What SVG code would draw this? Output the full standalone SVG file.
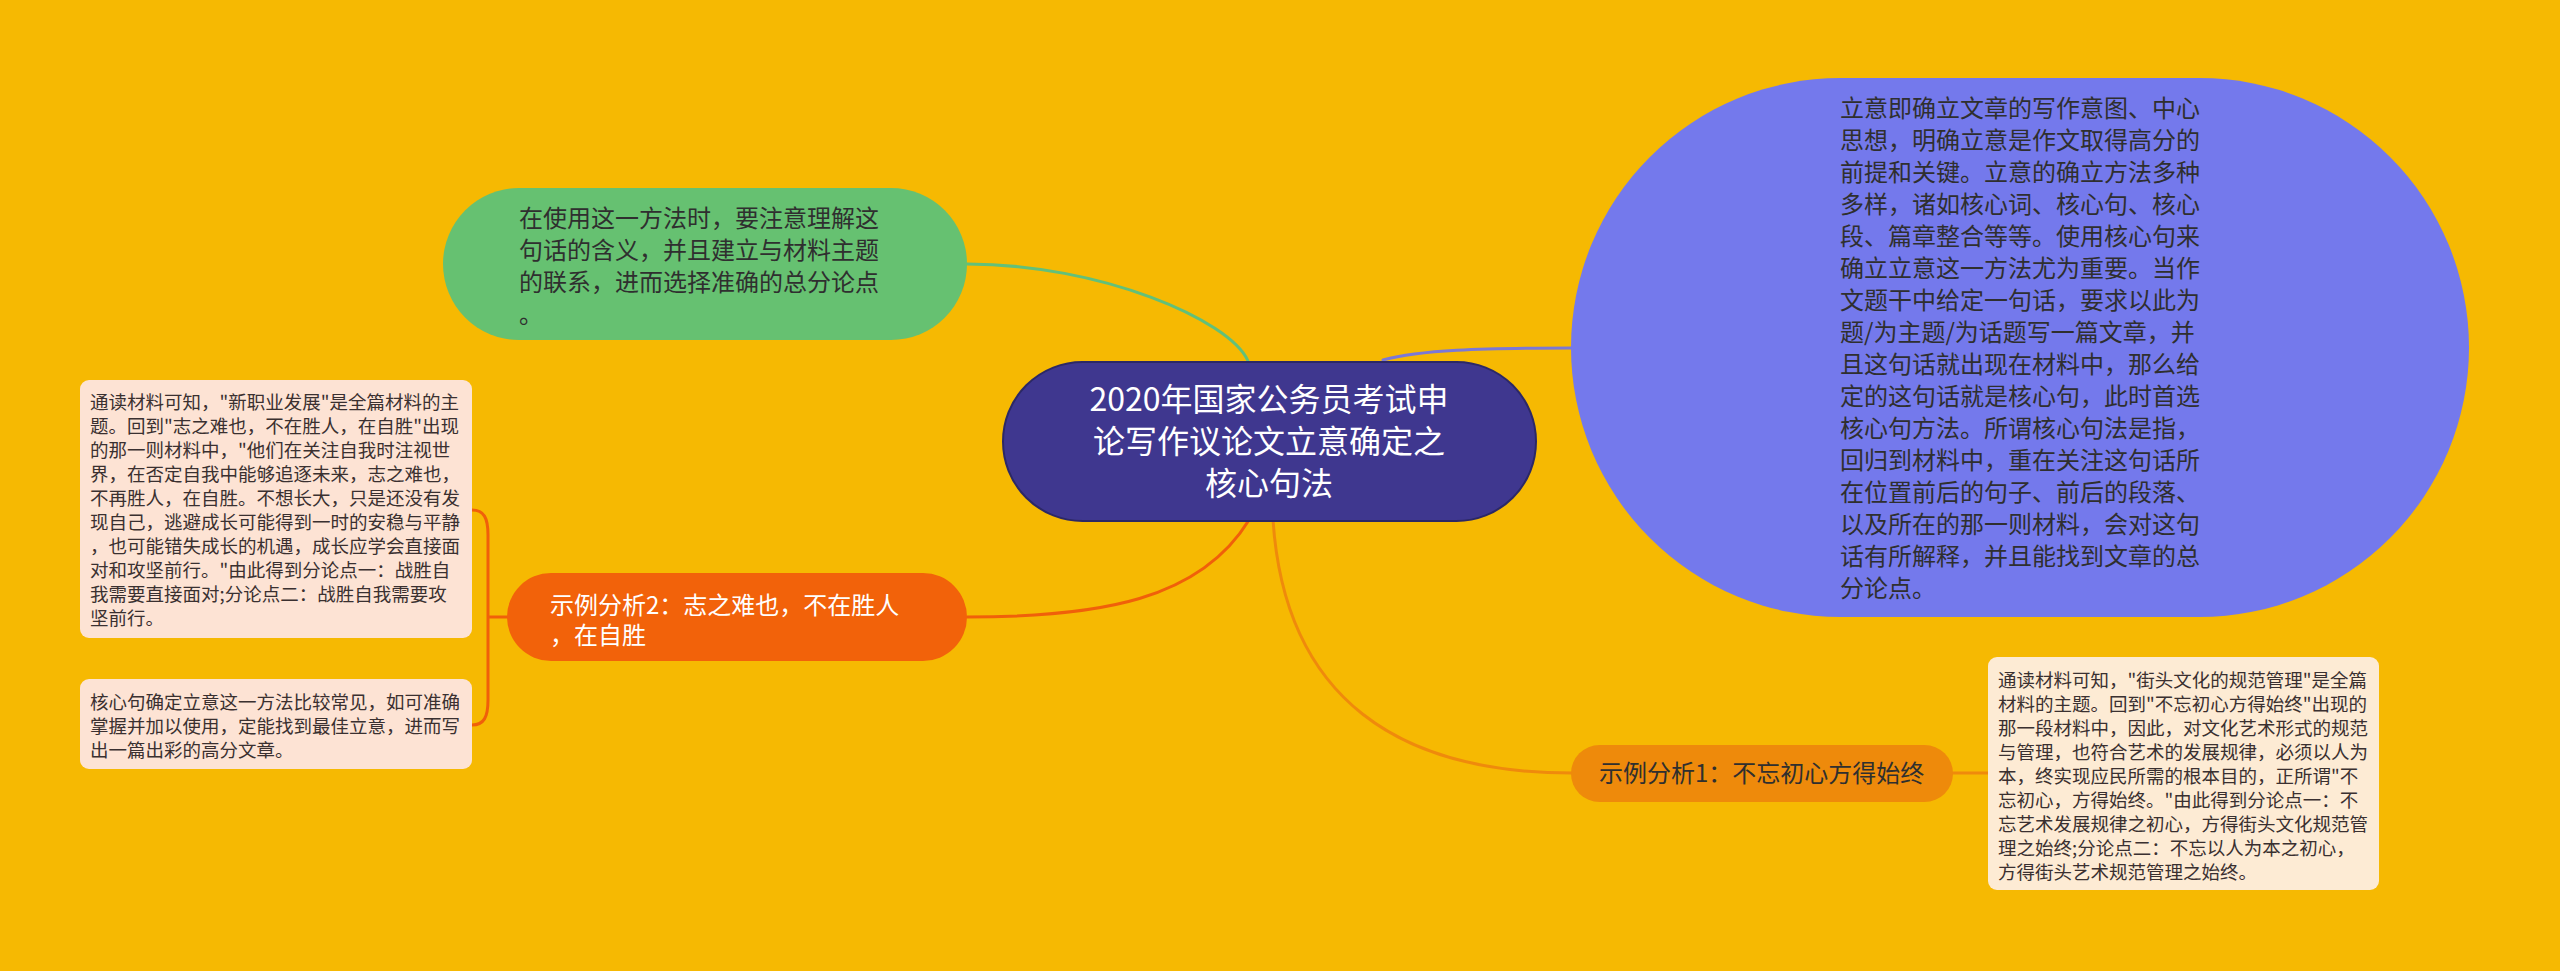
<svg xmlns="http://www.w3.org/2000/svg" width="2560" height="971" viewBox="0 0 2560 971">
<style>
text{font-family:"Noto Sans CJK SC","Microsoft YaHei",sans-serif;}
.c{fill:#fff;font-size:32px;text-anchor:middle;}
.t24{font-size:24px;fill:#2f2f2f;}
.w24{font-size:24px;fill:#fff;}
.s{font-size:18.5px;fill:#3a3030;}
.ln{fill:none;stroke-width:3;stroke-linecap:round;}
</style>
<rect width="2560" height="971" fill="#f6b902"/>
<g id="connectors">
<path class="ln" stroke="#62c07a" d="M967 264 C1100 264 1230 320 1248 361"/>
<path class="ln" stroke="#7b78d6" d="M1383 360 C1420 350 1480 348 1572 348"/>
<path class="ln" stroke="#f0600a" d="M1249 520 C1200 600 1100 617 967 617"/>
<path class="ln" stroke="#ef8a0c" d="M1273 520 C1285 700 1400 773 1572 773"/>
<path class="ln" stroke="#ef8a0c" d="M1953 773 L1988 773"/>
<path class="ln" stroke="#f0600a" d="M472 510 C484 510 488 518 488 535 L488 700 C488 717 484 725 472 725 M488 617 L507 617"/>
</g>
<g id="center">
<rect x="1003" y="362" width="533" height="159" rx="79.5" fill="#3f378f" stroke="#2c2866" stroke-width="2"/>
<text class="c" x="1269" y="411">2020年国家公务员考试申</text>
<text class="c" x="1269" y="453">论写作议论文立意确定之</text>
<text class="c" x="1269" y="495">核心句法</text>
</g>
<g id="green">
<rect x="443" y="188" width="524" height="152" rx="76" fill="#66c171"/>
<text class="t24" x="519" y="227">在使用这一方法时，要注意理解这</text>
<text class="t24" x="519" y="259">句话的含义，并且建立与材料主题</text>
<text class="t24" x="519" y="291">的联系，进而选择准确的总分论点</text>
<text class="t24" x="519" y="323">。</text>
</g>
<g id="blue">
<rect x="1571" y="78" width="898" height="539" rx="269.5" fill="#7479ec"/>
<g class="t24">
<text x="1840" y="117">立意即确立文章的写作意图、中心</text>
<text x="1840" y="149">思想，明确立意是作文取得高分的</text>
<text x="1840" y="181">前提和关键。立意的确立方法多种</text>
<text x="1840" y="213">多样，诸如核心词、核心句、核心</text>
<text x="1840" y="245">段、篇章整合等等。使用核心句来</text>
<text x="1840" y="277">确立立意这一方法尤为重要。当作</text>
<text x="1840" y="309">文题干中给定一句话，要求以此为</text>
<text x="1840" y="341">题/为主题/为话题写一篇文章，并</text>
<text x="1840" y="373">且这句话就出现在材料中，那么给</text>
<text x="1840" y="405">定的这句话就是核心句，此时首选</text>
<text x="1840" y="437">核心句方法。所谓核心句法是指，</text>
<text x="1840" y="469">回归到材料中，重在关注这句话所</text>
<text x="1840" y="501">在位置前后的句子、前后的段落、</text>
<text x="1840" y="533">以及所在的那一则材料，会对这句</text>
<text x="1840" y="565">话有所解释，并且能找到文章的总</text>
<text x="1840" y="597">分论点。</text>
</g>
</g>
<g id="example2">
<rect x="507" y="573" width="460" height="88" rx="44" fill="#f2620a"/>
<text class="w24" x="550" y="614">示例分析2：志之难也，不在胜人</text>
<text class="w24" x="550" y="644">，在自胜</text>
</g>
<g id="example1">
<rect x="1571" y="745" width="382" height="57" rx="28.5" fill="#ee8a0b"/>
<text class="t24" x="1599" y="782">示例分析1：不忘初心方得始终</text>
</g>
<g id="box1">
<rect x="80" y="380" width="392" height="258" rx="9" fill="#fde3d4"/>
<g class="s">
<text x="90" y="409">通读材料可知，"新职业发展"是全篇材料的主</text>
<text x="90" y="433">题。回到"志之难也，不在胜人，在自胜"出现</text>
<text x="90" y="457">的那一则材料中，"他们在关注自我时注视世</text>
<text x="90" y="481">界，在否定自我中能够追逐未来，志之难也，</text>
<text x="90" y="505">不再胜人，在自胜。不想长大，只是还没有发</text>
<text x="90" y="529">现自己，逃避成长可能得到一时的安稳与平静</text>
<text x="90" y="553">，也可能错失成长的机遇，成长应学会直接面</text>
<text x="90" y="577">对和攻坚前行。"由此得到分论点一：战胜自</text>
<text x="90" y="601">我需要直接面对;分论点二：战胜自我需要攻</text>
<text x="90" y="625">坚前行。</text>
</g>
</g>
<g id="box2">
<rect x="80" y="679" width="392" height="90" rx="9" fill="#fde3d4"/>
<g class="s">
<text x="90" y="709">核心句确定立意这一方法比较常见，如可准确</text>
<text x="90" y="733">掌握并加以使用，定能找到最佳立意，进而写</text>
<text x="90" y="757">出一篇出彩的高分文章。</text>
</g>
</g>
<g id="box3">
<rect x="1988" y="657" width="391" height="233" rx="9" fill="#fdebd4"/>
<g class="s">
<text x="1998" y="687">通读材料可知，"街头文化的规范管理"是全篇</text>
<text x="1998" y="711">材料的主题。回到"不忘初心方得始终"出现的</text>
<text x="1998" y="735">那一段材料中，因此，对文化艺术形式的规范</text>
<text x="1998" y="759">与管理，也符合艺术的发展规律，必须以人为</text>
<text x="1998" y="783">本，终实现应民所需的根本目的，正所谓"不</text>
<text x="1998" y="807">忘初心，方得始终。"由此得到分论点一：不</text>
<text x="1998" y="831">忘艺术发展规律之初心，方得街头文化规范管</text>
<text x="1998" y="855">理之始终;分论点二：不忘以人为本之初心，</text>
<text x="1998" y="879">方得街头艺术规范管理之始终。</text>
</g>
</g>
</svg>
